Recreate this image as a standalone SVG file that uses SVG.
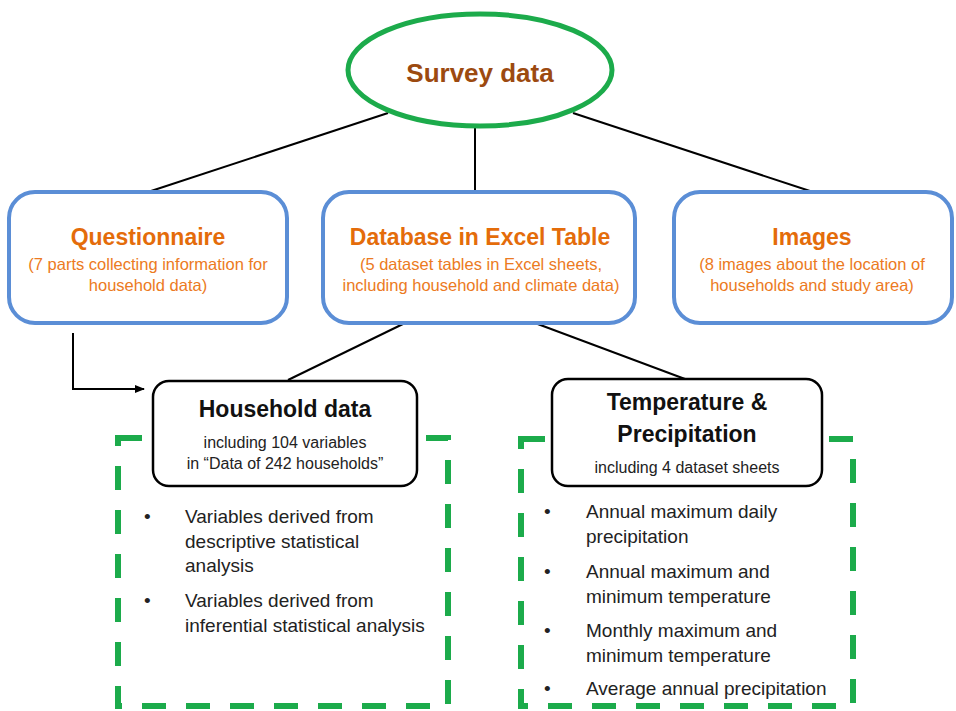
<svg xmlns="http://www.w3.org/2000/svg" width="956" height="711" viewBox="0 0 956 711">
<defs>
<style>
.t{font-family:"Liberation Sans",Arial,sans-serif;}
.blue{fill:#fff;stroke:#5b8ed6;stroke-width:4;}
.blk{fill:#fff;stroke:#000;stroke-width:2.5;}
.h1{font-size:23px;font-weight:bold;fill:#e46c0a;text-anchor:middle;}
.s1{font-size:16.5px;fill:#ec7a22;text-anchor:middle;}
.h2{font-size:23px;font-weight:bold;fill:#111;text-anchor:middle;}
.s2{font-size:16px;fill:#222;text-anchor:middle;}
.b{font-size:19px;fill:#222;}
.dash{fill:none;stroke:#1cab4b;stroke-width:6;stroke-dasharray:24 20;}
.con{fill:none;stroke:#000;stroke-width:2;}
</style>
<marker id="arr" markerWidth="10" markerHeight="10" refX="9" refY="5" orient="auto" markerUnits="userSpaceOnUse">
<path d="M0,1 L10,5 L0,9 z" fill="#000"/>
</marker>
</defs>
<rect width="956" height="711" fill="#fff"/>

<g id="connectors">
<line class="con" x1="388" y1="113" x2="148" y2="192"/>
<line class="con" x1="475" y1="127" x2="475" y2="192"/>
<line class="con" x1="573" y1="113" x2="813" y2="192"/>
<line class="con" x1="405" y1="323" x2="288" y2="380"/>
<line class="con" x1="535" y1="323" x2="685" y2="379"/>
<path class="con" d="M73,333 L73,389 L144,389" marker-end="url(#arr)"/>
</g>

<g id="dashed-household">
<rect class="dash" x="118" y="438" width="330" height="268"/>
</g>
<g id="dashed-climate">
<rect class="dash" x="521" y="439" width="332" height="267"/>
</g>

<g id="survey">
<ellipse cx="480" cy="70" rx="132" ry="56" fill="#fff" stroke="#1cab4b" stroke-width="5"/>
<text class="t" x="480" y="82" font-size="26" font-weight="bold" fill="#9c4a10" text-anchor="middle">Survey data</text>
</g>

<g id="questionnaire">
<rect class="blue" x="9" y="192" width="278" height="131" rx="26"/>
<text class="t h1" x="148" y="245">Questionnaire</text>
<text class="t s1" x="148" y="270">(7 parts collecting information for</text>
<text class="t s1" x="148" y="291">household data)</text>
</g>

<g id="database">
<rect class="blue" x="323" y="192" width="312" height="131" rx="26"/>
<text class="t h1" x="480" y="245">Database in Excel Table</text>
<text class="t s1" x="481" y="270">(5 dataset tables in Excel sheets,</text>
<text class="t s1" x="481" y="291">including household and climate data)</text>
</g>

<g id="images">
<rect class="blue" x="674" y="192" width="278" height="131" rx="26"/>
<text class="t h1" x="812" y="245">Images</text>
<text class="t s1" x="812" y="270">(8 images about the location of</text>
<text class="t s1" x="812" y="291">households and study area)</text>
</g>

<g id="household">
<rect class="blk" x="153" y="381" width="264" height="105" rx="16"/>
<text class="t h2" x="285" y="417">Household data</text>
<text class="t s2" x="285" y="448">including 104 variables</text>
<text class="t s2" x="285" y="469">in “Data of 242 households”</text>
</g>

<g id="temperature">
<rect class="blk" x="552" y="379" width="270" height="107" rx="16"/>
<text class="t h2" x="687" y="410">Temperature &amp;</text>
<text class="t h2" x="687" y="442">Precipitation</text>
<text class="t s2" x="687" y="473">including 4 dataset sheets</text>
</g>

<g id="household-list">
<text class="t b" x="144" y="523">•</text>
<text class="t b" x="185" y="523">Variables derived from</text>
<text class="t b" x="185" y="548">descriptive statistical</text>
<text class="t b" x="185" y="572">analysis</text>
<text class="t b" x="144" y="607">•</text>
<text class="t b" x="185" y="607">Variables derived from</text>
<text class="t b" x="185" y="632">inferential statistical analysis</text>
</g>

<g id="climate-list">
<text class="t b" x="544" y="518">•</text>
<text class="t b" x="586" y="518">Annual maximum daily</text>
<text class="t b" x="586" y="543">precipitation</text>
<text class="t b" x="544" y="578">•</text>
<text class="t b" x="586" y="578">Annual maximum and</text>
<text class="t b" x="586" y="603">minimum temperature</text>
<text class="t b" x="544" y="637">•</text>
<text class="t b" x="586" y="637">Monthly maximum and</text>
<text class="t b" x="586" y="662">minimum temperature</text>
<text class="t b" x="544" y="695">•</text>
<text class="t b" x="586" y="695">Average annual precipitation</text>
</g>
</svg>
